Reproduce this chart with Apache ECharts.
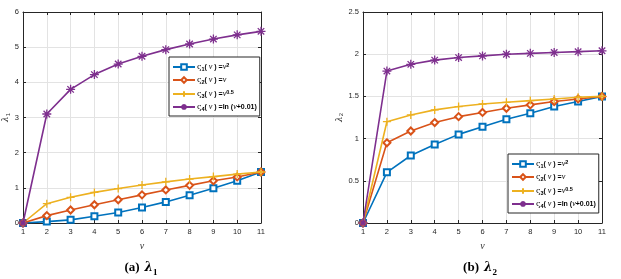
<!DOCTYPE html>
<html><head><meta charset="utf-8">
<script src="https://cdn.jsdelivr.net/npm/echarts@6/dist/echarts.min.js"></script>
<style>html,body{margin:0;padding:0;background:#fff}#c{width:621px;height:279px}</style>
</head><body><div id="c"></div>
<script>
var categories = ['1','2','3','4','5','6','7','8','9','10','11'];
// panel (a) lambda_1
var a_v2  = [0, 0.04, 0.09, 0.19, 0.30, 0.44, 0.60, 0.79, 0.99, 1.20, 1.45];
var a_v   = [0, 0.21, 0.37, 0.52, 0.66, 0.80, 0.94, 1.07, 1.20, 1.31, 1.45];
var a_v05 = [0, 0.55, 0.73, 0.87, 0.98, 1.08, 1.17, 1.25, 1.32, 1.39, 1.45];
var a_ln  = [0, 3.10, 3.80, 4.22, 4.52, 4.74, 4.93, 5.09, 5.23, 5.35, 5.45];
// panel (b) lambda_2
var b_v2  = [0, 0.60, 0.80, 0.93, 1.05, 1.14, 1.23, 1.30, 1.38, 1.44, 1.50];
var b_v   = [0, 0.95, 1.09, 1.19, 1.26, 1.31, 1.36, 1.40, 1.44, 1.47, 1.50];
var b_v05 = [0, 1.20, 1.28, 1.34, 1.38, 1.41, 1.43, 1.45, 1.47, 1.49, 1.50];
var b_ln  = [0, 1.80, 1.88, 1.93, 1.96, 1.98, 2.00, 2.01, 2.02, 2.03, 2.04];
var yTicksA = [0,1,2,3,4,5,6];
var yTicksB = [0,0.5,1,1.5,2,2.5];

var names = ['s1','s2','s3','s4'];
var colors = ['#0072BD','#D95319','#EDB120','#7E2F8E'];
var legendText = {
  s1: '{g|ς}{sub|1}{t|( }{i|v}{t| ) =}{i|v}{sup|2}',
  s2: '{g|ς}{sub|2}{t|( }{i|v}{t| ) =}{i|v}',
  s3: '{g|ς}{sub|3}{t|( }{i|v}{t| ) =}{i|v}{sup|0.5}',
  s4: '{g|ς}{sub|4}{t|( }{i|v}{t| ) =ln (}{i|v}{t|+0.01)}'
};
var plusPath = 'path://M0,-1L0,1M-1,0L1,0';
var starPath = 'path://M0,-1L0,1M-1,0L1,0M-0.72,-0.72L0.72,0.72M-0.72,0.72L0.72,-0.72';
var symbols = ['emptyRect','emptyDiamond',plusPath,starPath];
var symSizes = [6,7,8,9];

var axisColor = '#262626';
var tickFont = {color: axisColor, fontSize: 7.5, fontFamily: 'Liberation Sans, Arial, sans-serif'};
var rich = {
  g: {fontSize: 8, fontFamily: 'DejaVu Serif, serif', color: '#000'},
  sub: {fontSize: 5.5, verticalAlign: 'bottom', fontWeight: 'bold', fontFamily: 'Liberation Sans, sans-serif', color:'#000', padding:[4,0,0,0]},
  sup: {fontSize: 5.5, verticalAlign: 'top', fontWeight: 'bold', fontFamily: 'Liberation Sans, sans-serif', color:'#000', padding:[0,0,4,0]},
  t: {fontSize: 7, fontWeight: 'bold', fontFamily: 'Liberation Sans, sans-serif', color:'#000'},
  i: {fontSize: 8, fontStyle: 'italic', fontFamily: 'Liberation Serif, serif', color:'#000'}
};

function mkLegend(left, top) {
  return {
    left: left, top: top, orient: 'vertical', data: names,
    itemWidth: 22, itemHeight: 7, itemGap: 4,
    padding: [5, 3, 4, 3], backgroundColor: '#fff',
    borderColor: '#262626', borderWidth: 1,
    formatter: function (n) { return legendText[n]; },
    textStyle: {rich: rich, fontSize: 7, padding: [0,0,0,-3]}
  };
}
function gridAxesX(gi, name) {
  return [{
    type: 'value', gridIndex: gi, min: 1, max: 11, interval: 1, position: 'bottom',
    name: name, nameLocation: 'middle', nameGap: 13,
    nameTextStyle: {fontFamily: 'Liberation Serif, serif', fontStyle: 'italic', fontSize: 10, color: '#333'},
    axisLine: {onZero: false, lineStyle: {color: axisColor, width: 1}},
    axisTick: {inside: true, length: 3, lineStyle: {color: axisColor}},
    axisLabel: Object.assign({margin: 5}, tickFont),
    splitLine: {show: true, lineStyle: {color: '#e3e3e3', width: 1}}
  }, {
    type: 'value', gridIndex: gi, min: 1, max: 11, interval: 1, position: 'top',
    axisLine: {onZero: false, lineStyle: {color: axisColor, width: 1}},
    axisTick: {inside: true, length: 3, lineStyle: {color: axisColor}},
    axisLabel: {show: false}, splitLine: {show: false}
  }];
}
function gridAxesY(gi, max, interval, sub, gap, ticks) {
  return [{
    type: 'value', gridIndex: gi, min: 0, max: max, interval: interval, position: 'left',
    name: '{l|λ}{s|' + sub + '}', nameLocation: 'middle', nameGap: gap, nameRotate: 90,
    nameTextStyle: {rich: {
      l: {fontFamily: 'DejaVu Serif, serif', fontStyle: 'italic', fontSize: 9, color: '#333'},
      s: {fontFamily: 'Liberation Sans, sans-serif', fontSize: 6, color: '#333', verticalAlign: 'bottom', padding:[4,0,0,0]}
    }},
    axisLine: {onZero: false, lineStyle: {color: axisColor, width: 1}},
    axisTick: {inside: true, length: 3, lineStyle: {color: axisColor}},
    axisLabel: Object.assign({margin: 4, formatter: function (v) { return ticks.indexOf(v) >= 0 ? String(v) : ''; }}, tickFont),
    splitLine: {show: true, lineStyle: {color: '#e3e3e3', width: 1}}
  }, {
    type: 'value', gridIndex: gi, min: 0, max: max, interval: interval, position: 'right',
    axisLine: {onZero: false, lineStyle: {color: axisColor, width: 1}},
    axisTick: {inside: true, length: 3, lineStyle: {color: axisColor}},
    axisLabel: {show: false}, splitLine: {show: false}
  }];
}
function mkSeries(xi, yi, arrs) {
  return arrs.map(function (arr, k) {
    var isPath = k >= 2;
    return {
      name: names[k], type: 'line', xAxisIndex: xi, yAxisIndex: yi,
      data: arr.map(function (v, j) { return [Number(categories[j]), v]; }),
      symbol: symbols[k], symbolSize: symSizes[k], showSymbol: true,
      lineStyle: {color: colors[k], width: 1.6},
      itemStyle: {color: colors[k], borderColor: colors[k], borderWidth: isPath ? 1.3 : 1.4},
      emphasis: {disabled: true}, animation: false, z: 2 + k
    };
  });
}

var chart = echarts.init(document.getElementById('c'), null, {renderer: 'canvas'});
chart.setOption({
  animation: false,
  backgroundColor: '#fff',
  grid: [
    {left: 23, right: 360, top: 12, bottom: 56},
    {left: 363, right: 19, top: 12, bottom: 56}
  ],
  xAxis: gridAxesX(0, 'v').concat(gridAxesX(1, 'v')),
  yAxis: gridAxesY(0, 6, 1, '1', 9, yTicksA).concat(gridAxesY(1, 2.5, 0.5, '2', 17, yTicksB)),
  legend: [mkLegend(169, 57), mkLegend(508, 154)],
  title: [
    {text: '{b|(a)} {l|λ}{s|1}', left: 136, top: 254, textAlign: 'center',
     textStyle: {rich: {
       b: {fontFamily: 'Liberation Serif, serif', fontWeight: 'bold', fontSize: 13, color: '#000'},
       l: {fontFamily: 'DejaVu Serif, serif', fontStyle: 'italic', fontSize: 12, color: '#000'},
       s: {fontFamily: 'Liberation Serif, serif', fontSize: 9, color: '#000', verticalAlign: 'bottom', padding:[6,0,0,0]}
     }}},
    {text: '{b|(b)} {l|λ}{s|2}', left: 475, top: 254, textAlign: 'center',
     textStyle: {rich: {
       b: {fontFamily: 'Liberation Serif, serif', fontWeight: 'bold', fontSize: 13, color: '#000'},
       l: {fontFamily: 'DejaVu Serif, serif', fontStyle: 'italic', fontSize: 12, color: '#000'},
       s: {fontFamily: 'Liberation Serif, serif', fontSize: 9, color: '#000', verticalAlign: 'bottom', padding:[6,0,0,0]}
     }}}
  ],
  series: mkSeries(0, 0, [a_v2, a_v, a_v05, a_ln]).concat(mkSeries(2, 2, [b_v2, b_v, b_v05, b_ln]))
});
</script></body></html>
